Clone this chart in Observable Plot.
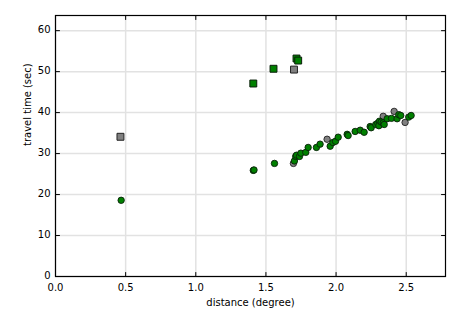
<!DOCTYPE html>
<html>
<head>
<meta charset="utf-8">
<script src="https://cdn.jsdelivr.net/npm/d3@7"></script>
<script src="https://cdn.jsdelivr.net/npm/@observablehq/plot@0.6"></script>
<style>
  html, body { margin: 0; padding: 0; background: #fff; }
  #chart svg { display: block; }
</style>
</head>
<body>
<div id="chart"></div>
<script>
// Green circles (distance, travel time)
const greenCircleX = [0.468,1.41,1.415,1.561,1.703,1.712,1.718,1.739,1.749,1.784,1.801,1.86,1.886,1.958,1.977,1.996,2.015,2.079,2.086,2.136,2.172,2.2,2.243,2.25,2.283,2.297,2.309,2.305,2.321,2.336,2.343,2.364,2.395,2.435,2.447,2.461,2.518,2.535];
const greenCircleY = [18.6,25.9,26.0,27.6,28.2,29.3,29.6,29.3,30.1,30.3,31.5,31.5,32.3,31.8,32.7,33.0,34.0,34.7,34.4,35.4,35.7,35.2,36.6,36.3,37.1,37.4,37.9,36.8,37.7,37.5,37.1,38.5,38.6,38.5,39.5,39.3,38.9,39.3];
// Grey circles
const greyCircleX = [1.696,1.936,2.336,2.414,2.492];
const greyCircleY = [27.6,33.5,39.1,40.3,37.6];
// Green squares
const greenSquareX = [1.41,1.554,1.718,1.73];
const greenSquareY = [47.1,50.7,53.2,52.7];
// Grey squares
const greySquareX = [0.463,1.70];
const greySquareY = [34.1,50.5];

const xTicks = [0.0,0.5,1.0,1.5,2.0,2.5];
const yTicks = [0,10,20,30,40,50,60];
const xLabel = "distance (degree)";
const yLabel = "travel time (sec)";

const zipXY = (xs, ys) => xs.map((x, i) => ({x, y: ys[i]}));
const greenCircles = zipXY(greenCircleX, greenCircleY);
const greyCircles = zipXY(greyCircleX, greyCircleY);
const greenSquares = zipXY(greenSquareX, greenSquareY);
const greySquares = zipXY(greySquareX, greySquareY);

const tickShape = {draw(ctx, l) { ctx.moveTo(0, 0); ctx.lineTo(0, -l); }};
const tickOpts = {length: 4, shape: tickShape, anchor: "start", stroke: "black", strokeWidth: 1};

const GREEN = "#008000", GREY = "#808080";

const chart = Plot.plot({
  width: 465,
  height: 315,
  marginLeft: 55,
  marginRight: 20,
  marginTop: 15,
  marginBottom: 39,
  style: {fontFamily: "DejaVu Sans", fontSize: "10px", background: "#fff", color: "#000"},
  x: {domain: [0, 2.78]},
  y: {domain: [0, 63.7]},
  marks: [
    Plot.gridX(xTicks, {stroke: "#e2e2e2", strokeOpacity: 1, strokeWidth: 1.5}),
    Plot.gridY(yTicks, {stroke: "#e2e2e2", strokeOpacity: 1, strokeWidth: 1.5}),
    Plot.axisX(xTicks, {tickSize: 0, tickPadding: 7, tickFormat: d3.format(".1f"), label: null, fontSize: 10}),
    Plot.axisY(yTicks, {tickSize: 0, tickPadding: 5, tickFormat: d3.format("d"), label: null, fontSize: 10, dy: -1}),
    Plot.vector(xTicks, {x: d => d, frameAnchor: "bottom", rotate: 0, ...tickOpts}),
    Plot.vector(xTicks, {x: d => d, frameAnchor: "top", rotate: 180, ...tickOpts}),
    Plot.vector(yTicks, {y: d => d, frameAnchor: "left", rotate: 90, ...tickOpts}),
    Plot.vector(yTicks, {y: d => d, frameAnchor: "right", rotate: -90, ...tickOpts}),
    Plot.dot(greySquares, {x: "x", y: "y", symbol: "square", r: 3.9, fill: GREY, stroke: "#222", strokeWidth: 1}),
    Plot.dot(greenSquares, {x: "x", y: "y", symbol: "square", r: 3.9, fill: GREEN, stroke: "#0a1f0a", strokeWidth: 1}),
    Plot.dot(greyCircles, {x: "x", y: "y", r: 3.2, fill: GREY, stroke: "#222", strokeWidth: 0.9}),
    Plot.dot(greenCircles, {x: "x", y: "y", r: 3.2, fill: GREEN, stroke: "#0a1f0a", strokeWidth: 0.9}),
    Plot.frame({stroke: "black", strokeWidth: 1.2}),
    Plot.text([xLabel], {text: d => d, frameAnchor: "bottom", dy: 26, fontSize: 10, lineAnchor: "middle"}),
    Plot.text([yLabel], {text: d => d, frameAnchor: "left", dx: -28, rotate: -90, fontSize: 10, lineAnchor: "middle"})
  ]
});
document.getElementById("chart").appendChild(chart);
</script>
</body>
</html>
